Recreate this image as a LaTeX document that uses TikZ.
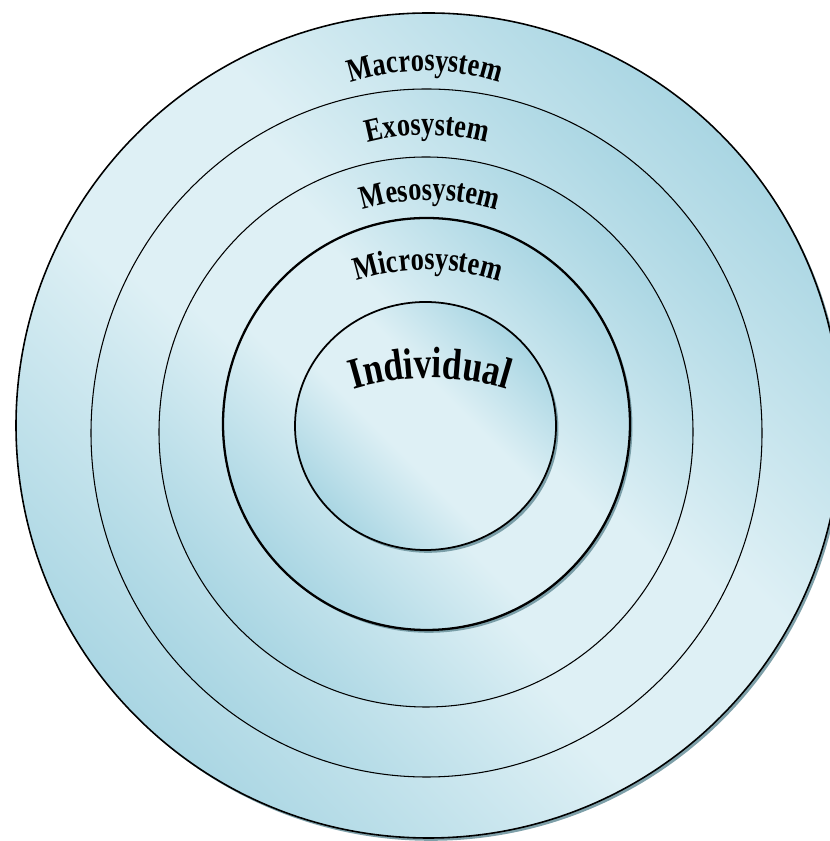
\documentclass[tikz,border=0pt]{standalone}
\usepackage{fontspec}
\setmainfont{Liberation Serif}
\usetikzlibrary{shadows,decorations.text}
\definecolor{ringDark}{RGB}{170,214,227}
\definecolor{ringLight}{RGB}{222,240,245}
\pgfdeclareverticalshading{ringShade}{100bp}{color(0bp)=(ringDark); color(25bp)=(ringDark);
  color(43bp)=(ringLight); color(57bp)=(ringLight); color(75bp)=(ringDark); color(100bp)=(ringDark)}
\definecolor{shadowTeal}{RGB}{112,150,160}
\newcommand\ringfont{\fontsize{15}{18}\selectfont\bfseries}
\newcommand\corefont{\fontsize{20}{24}\selectfont\bfseries}

\begin{document}
\begin{tikzpicture}[x=0.02cm, y=0.02cm,
    ring/.style={draw=black, shading=ringShade, shading angle=-45},
    shadowed/.style={drop shadow={shadow xshift=1.4pt, shadow yshift=-1.6pt,
      fill=shadowTeal, opacity=0.9}},
    ringlabel/.style 2 args={decorate, decoration={text effects along path,
      text={#2}, text align=center, text effects/.cd, text along path,
      characters={font=#1, yscale=1.25}}}]
  \useasboundingbox (0,0) rectangle (829,841);

  % the five discs, outside in
  \path[ring, shadowed, line width=0.9pt] (428.5,415.5) circle [radius=412.5];
  \path[ring, line width=0.6pt] (426.5,408) ellipse [x radius=335.5, y radius=344];
  \path[ring, line width=0.6pt] (426,409) ellipse [x radius=267, y radius=275];
  \path[ring, shadowed, line width=1.3pt] (426.5,417) ellipse [x radius=203.5, y radius=206];
  \path[ring, shadowed, line width=1pt] (425.5,415) ellipse [x radius=130.5, y radius=124];

  % arched labels
  \path[ringlabel={\ringfont}{Macrosystem}] (425,530) ++(150:240) arc [start angle=150, end angle=30, radius=240];
  \path[ringlabel={\ringfont}{Exosystem}] (427,476) ++(150:230) arc [start angle=150, end angle=30, radius=230];
  \path[ringlabel={\ringfont}{Mesosystem}] (430,411) ++(150:230) arc [start angle=150, end angle=30, radius=230];
  \path[ringlabel={\ringfont}{Microsystem}] (428,341) ++(150:230) arc [start angle=150, end angle=30, radius=230];
  \path[ringlabel={\corefont}{Individual}] (430,203) ++(150:260) arc [start angle=150, end angle=30, radius=260];
\end{tikzpicture}
\end{document}
